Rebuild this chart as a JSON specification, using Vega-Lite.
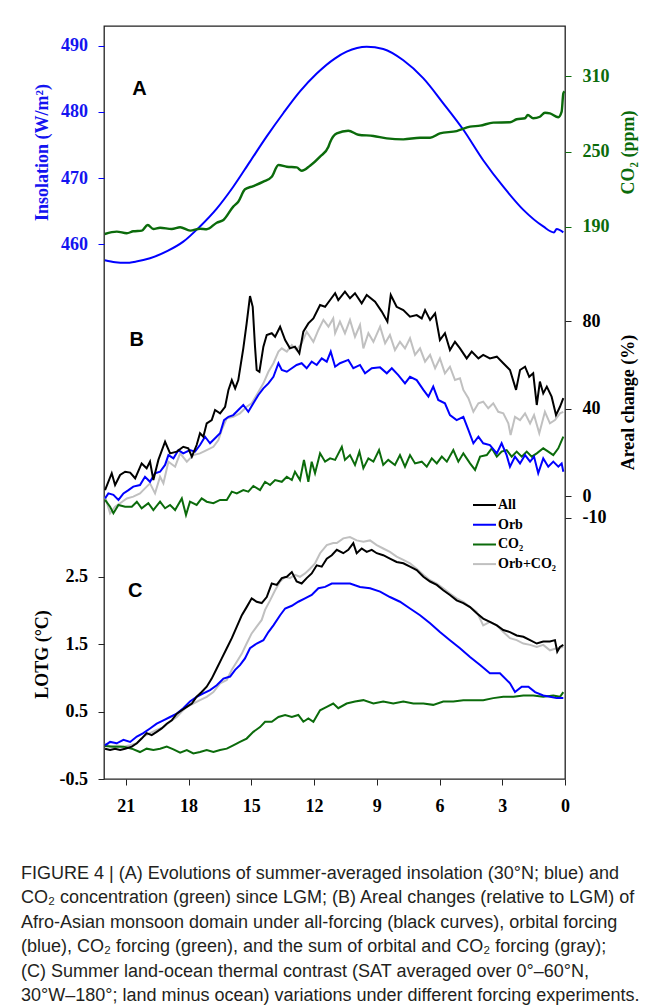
{
"$schema": "https://vega.github.io/schema/vega-lite/v6.json",
"width": 461, "height": 753,
"autosize": "none",
"padding": {"left": 104, "top": 26, "right": 92, "bottom": 228},
"background": "white",
"config": {"view": {"stroke": "#222", "strokeWidth": 1.3}},
"title": {
 "text": ["FIGURE 4 | (A) Evolutions of summer-averaged insolation (30°N; blue) and", "CO₂ concentration (green) since LGM; (B) Areal changes (relative to LGM) of", "Afro-Asian monsoon domain under all-forcing (black curves), orbital forcing", "(blue), CO₂ forcing (green), and the sum of orbital and CO₂ forcing (gray);", "(C) Summer land-ocean thermal contrast (SAT averaged over 0°–60°N,", "30°W–180°; land minus ocean) variations under different forcing experiments."],
 "orient": "bottom", "anchor": "start", "frame": "group", "dx": -83, "offset": 50,
 "font": "Liberation Sans", "fontSize": 18, "fontWeight": "normal", "color": "#231f20", "lineHeight": 24.4
},
"datasets": {
 "ins": [{"t":22.0,"v":457.6},{"t":21.5,"v":457.3},{"t":21.03,"v":457.2},{"t":20.5,"v":457.4},{"t":19.84,"v":457.9},{"t":19.0,"v":459.0},{"t":18.25,"v":460.4},{"t":17.45,"v":462.7},{"t":16.65,"v":465.4},{"t":15.86,"v":468.7},{"t":15.06,"v":472.5},{"t":14.26,"v":476.3},{"t":13.47,"v":479.8},{"t":12.67,"v":483.1},{"t":11.87,"v":485.8},{"t":10.99,"v":488.1},{"t":10.44,"v":489.1},{"t":9.48,"v":489.85},{"t":8.69,"v":489.5},{"t":7.73,"v":487.8},{"t":6.78,"v":485.1},{"t":5.82,"v":481.3},{"t":4.86,"v":477.3},{"t":3.91,"v":472.7},{"t":2.95,"v":468.7},{"t":1.99,"v":465.2},{"t":1.04,"v":462.7},{"t":0.53,"v":461.8},{"t":0.40,"v":462.3},{"t":0.08,"v":461.8}],
 "co2": [{"t":22.0,"v":184.4},{"t":21.43,"v":186.3},{"t":20.95,"v":185.0},{"t":20.64,"v":186.6},{"t":20.23,"v":187.1},{"t":19.95,"v":191.6},{"t":19.68,"v":188.4},{"t":19.36,"v":189.4},{"t":18.8,"v":188.4},{"t":18.4,"v":189.8},{"t":17.92,"v":187.1},{"t":17.45,"v":188.6},{"t":17.13,"v":188.2},{"t":16.65,"v":193.4},{"t":16.33,"v":195.6},{"t":15.86,"v":206.2},{"t":15.62,"v":210.1},{"t":15.3,"v":220.0},{"t":14.9,"v":222.6},{"t":14.42,"v":226.1},{"t":14.02,"v":230.0},{"t":13.7,"v":239.4},{"t":13.3,"v":238.0},{"t":12.83,"v":237.5},{"t":12.59,"v":234.8},{"t":12.19,"v":238.8},{"t":11.71,"v":246.0},{"t":11.31,"v":253.9},{"t":11.23,"v":257.5},{"t":10.91,"v":264.6},{"t":10.36,"v":266.7},{"t":9.88,"v":263.5},{"t":9.16,"v":262.5},{"t":8.52,"v":260.6},{"t":7.73,"v":259.8},{"t":6.93,"v":261.1},{"t":6.45,"v":261.1},{"t":5.98,"v":264.6},{"t":5.18,"v":266.4},{"t":4.54,"v":269.9},{"t":4.06,"v":270.7},{"t":3.43,"v":273.1},{"t":2.63,"v":273.4},{"t":2.31,"v":275.8},{"t":1.91,"v":276.6},{"t":1.78,"v":279.2},{"t":1.52,"v":276.6},{"t":1.2,"v":277.8},{"t":0.96,"v":281.0},{"t":0.72,"v":280.5},{"t":0.32,"v":277.4},{"t":0.16,"v":281.8},{"t":0.08,"v":296.5},{"t":0.02,"v":298.0}],
 "areal": [
{"k":"Orb+CO₂","t":21.99,"v":-0.3},{"k":"Orb+CO₂","t":21.75,"v":-7.9},{"k":"Orb+CO₂","t":21.51,"v":-4.9},{"k":"Orb+CO₂","t":21.27,"v":-3.3},{"k":"Orb+CO₂","t":20.95,"v":-1.1},{"k":"Orb+CO₂","t":20.64,"v":-0.3},{"k":"Orb+CO₂","t":20.32,"v":1.2},{"k":"Orb+CO₂","t":20.08,"v":3.5},{"k":"Orb+CO₂","t":19.84,"v":5.8},{"k":"Orb+CO₂","t":19.6,"v":1.2},{"k":"Orb+CO₂","t":19.36,"v":8.8},{"k":"Orb+CO₂","t":19.2,"v":5.8},{"k":"Orb+CO₂","t":18.96,"v":15.7},{"k":"Orb+CO₂","t":18.64,"v":13.4},{"k":"Orb+CO₂","t":18.4,"v":19.5},{"k":"Orb+CO₂","t":18.08,"v":15.7},{"k":"Orb+CO₂","t":17.77,"v":18.7},{"k":"Orb+CO₂","t":17.45,"v":19.5},{"k":"Orb+CO₂","t":17.13,"v":21.0},{"k":"Orb+CO₂","t":16.81,"v":22.5},{"k":"Orb+CO₂","t":16.57,"v":25.6},{"k":"Orb+CO₂","t":16.41,"v":30.2},{"k":"Orb+CO₂","t":16.17,"v":35.5},{"k":"Orb+CO₂","t":15.86,"v":36.2},{"k":"Orb+CO₂","t":15.54,"v":37.8},{"k":"Orb+CO₂","t":15.22,"v":40.8},{"k":"Orb+CO₂","t":14.98,"v":42.4},{"k":"Orb+CO₂","t":14.74,"v":46.2},{"k":"Orb+CO₂","t":14.42,"v":51.5},{"k":"Orb+CO₂","t":14.18,"v":56.8},{"k":"Orb+CO₂","t":13.94,"v":60.7},{"k":"Orb+CO₂","t":13.7,"v":66.0},{"k":"Orb+CO₂","t":13.54,"v":67.5},{"k":"Orb+CO₂","t":13.3,"v":66.0},{"k":"Orb+CO₂","t":13.06,"v":69.0},{"k":"Orb+CO₂","t":12.83,"v":66.7},{"k":"Orb+CO₂","t":12.59,"v":69.8},{"k":"Orb+CO₂","t":12.35,"v":75.1},{"k":"Orb+CO₂","t":12.03,"v":70.5},{"k":"Orb+CO₂","t":11.79,"v":75.9},{"k":"Orb+CO₂","t":11.55,"v":80.5},{"k":"Orb+CO₂","t":11.31,"v":77.4},{"k":"Orb+CO₂","t":11.08,"v":81.2},{"k":"Orb+CO₂","t":10.99,"v":74.4},{"k":"Orb+CO₂","t":10.76,"v":79.7},{"k":"Orb+CO₂","t":10.52,"v":74.4},{"k":"Orb+CO₂","t":10.28,"v":80.5},{"k":"Orb+CO₂","t":10.04,"v":72.8},{"k":"Orb+CO₂","t":9.8,"v":78.2},{"k":"Orb+CO₂","t":9.64,"v":67.5},{"k":"Orb+CO₂","t":9.4,"v":74.4},{"k":"Orb+CO₂","t":9.16,"v":70.5},{"k":"Orb+CO₂","t":8.84,"v":77.4},{"k":"Orb+CO₂","t":8.6,"v":69.8},{"k":"Orb+CO₂","t":8.37,"v":73.6},{"k":"Orb+CO₂","t":8.13,"v":66.7},{"k":"Orb+CO₂","t":7.89,"v":70.5},{"k":"Orb+CO₂","t":7.65,"v":67.5},{"k":"Orb+CO₂","t":7.41,"v":72.1},{"k":"Orb+CO₂","t":7.17,"v":64.5},{"k":"Orb+CO₂","t":6.93,"v":67.5},{"k":"Orb+CO₂","t":6.69,"v":61.4},{"k":"Orb+CO₂","t":6.45,"v":64.5},{"k":"Orb+CO₂","t":6.21,"v":58.4},{"k":"Orb+CO₂","t":5.98,"v":62.9},{"k":"Orb+CO₂","t":5.74,"v":56.1},{"k":"Orb+CO₂","t":5.5,"v":59.1},{"k":"Orb+CO₂","t":5.26,"v":53.0},{"k":"Orb+CO₂","t":5.02,"v":53.8},{"k":"Orb+CO₂","t":4.86,"v":48.5},{"k":"Orb+CO₂","t":4.62,"v":44.7},{"k":"Orb+CO₂","t":4.38,"v":38.5},{"k":"Orb+CO₂","t":4.14,"v":42.4},{"k":"Orb+CO₂","t":3.91,"v":43.1},{"k":"Orb+CO₂","t":3.67,"v":40.1},{"k":"Orb+CO₂","t":3.43,"v":42.4},{"k":"Orb+CO₂","t":3.19,"v":38.5},{"k":"Orb+CO₂","t":2.95,"v":37.8},{"k":"Orb+CO₂","t":2.71,"v":33.2},{"k":"Orb+CO₂","t":2.6,"v":27.9},{"k":"Orb+CO₂","t":2.39,"v":36.2},{"k":"Orb+CO₂","t":2.15,"v":34.7},{"k":"Orb+CO₂","t":1.91,"v":37.8},{"k":"Orb+CO₂","t":1.67,"v":33.2},{"k":"Orb+CO₂","t":1.48,"v":37.0},{"k":"Orb+CO₂","t":1.23,"v":28.7},{"k":"Orb+CO₂","t":0.96,"v":38.5},{"k":"Orb+CO₂","t":0.72,"v":33.2},{"k":"Orb+CO₂","t":0.48,"v":34.7},{"k":"Orb+CO₂","t":0.24,"v":37.8},{"k":"Orb+CO₂","t":0.08,"v":38.5},
{"k":"CO₂","t":21.99,"v":-1.8},{"k":"CO₂","t":21.75,"v":-4.9},{"k":"CO₂","t":21.59,"v":-7.9},{"k":"CO₂","t":21.35,"v":-4.1},{"k":"CO₂","t":21.03,"v":-4.9},{"k":"CO₂","t":20.71,"v":-4.9},{"k":"CO₂","t":20.47,"v":-2.6},{"k":"CO₂","t":20.24,"v":-5.6},{"k":"CO₂","t":19.92,"v":-3.3},{"k":"CO₂","t":19.68,"v":-6.4},{"k":"CO₂","t":19.36,"v":-2.6},{"k":"CO₂","t":19.12,"v":-5.6},{"k":"CO₂","t":18.88,"v":-4.1},{"k":"CO₂","t":18.64,"v":-6.4},{"k":"CO₂","t":18.32,"v":-1.1},{"k":"CO₂","t":18.12,"v":-8.7},{"k":"CO₂","t":17.93,"v":-2.6},{"k":"CO₂","t":17.61,"v":-4.1},{"k":"CO₂","t":17.37,"v":-1.1},{"k":"CO₂","t":17.13,"v":-2.6},{"k":"CO₂","t":16.81,"v":-3.3},{"k":"CO₂","t":16.49,"v":-1.8},{"k":"CO₂","t":16.17,"v":-1.8},{"k":"CO₂","t":15.93,"v":2.0},{"k":"CO₂","t":15.69,"v":1.2},{"k":"CO₂","t":15.38,"v":2.7},{"k":"CO₂","t":15.14,"v":2.0},{"k":"CO₂","t":14.9,"v":4.6},{"k":"CO₂","t":14.58,"v":2.7},{"k":"CO₂","t":14.34,"v":6.5},{"k":"CO₂","t":14.1,"v":5.0},{"k":"CO₂","t":13.86,"v":7.3},{"k":"CO₂","t":13.54,"v":6.5},{"k":"CO₂","t":13.3,"v":8.8},{"k":"CO₂","t":13.06,"v":7.3},{"k":"CO₂","t":12.91,"v":11.1},{"k":"CO₂","t":12.67,"v":7.3},{"k":"CO₂","t":12.48,"v":16.5},{"k":"CO₂","t":12.27,"v":6.5},{"k":"CO₂","t":12.11,"v":15.7},{"k":"CO₂","t":11.95,"v":10.4},{"k":"CO₂","t":11.71,"v":19.5},{"k":"CO₂","t":11.47,"v":15.7},{"k":"CO₂","t":11.23,"v":17.2},{"k":"CO₂","t":10.99,"v":16.5},{"k":"CO₂","t":10.67,"v":22.5},{"k":"CO₂","t":10.52,"v":16.5},{"k":"CO₂","t":10.28,"v":18.7},{"k":"CO₂","t":10.04,"v":14.2},{"k":"CO₂","t":9.83,"v":20.3},{"k":"CO₂","t":9.64,"v":12.7},{"k":"CO₂","t":9.4,"v":17.2},{"k":"CO₂","t":9.16,"v":15.7},{"k":"CO₂","t":8.89,"v":21.0},{"k":"CO₂","t":8.69,"v":14.2},{"k":"CO₂","t":8.45,"v":16.5},{"k":"CO₂","t":8.13,"v":14.2},{"k":"CO₂","t":7.89,"v":18.7},{"k":"CO₂","t":7.65,"v":13.4},{"k":"CO₂","t":7.41,"v":18.7},{"k":"CO₂","t":7.17,"v":14.9},{"k":"CO₂","t":6.85,"v":15.7},{"k":"CO₂","t":6.61,"v":13.4},{"k":"CO₂","t":6.37,"v":17.2},{"k":"CO₂","t":6.13,"v":14.9},{"k":"CO₂","t":5.89,"v":18.0},{"k":"CO₂","t":5.65,"v":15.7},{"k":"CO₂","t":5.34,"v":21.0},{"k":"CO₂","t":5.1,"v":15.7},{"k":"CO₂","t":4.86,"v":19.5},{"k":"CO₂","t":4.54,"v":14.9},{"k":"CO₂","t":4.3,"v":11.9},{"k":"CO₂","t":4.06,"v":18.0},{"k":"CO₂","t":3.74,"v":18.7},{"k":"CO₂","t":3.5,"v":21.8},{"k":"CO₂","t":3.26,"v":18.0},{"k":"CO₂","t":3.03,"v":20.3},{"k":"CO₂","t":2.79,"v":21.0},{"k":"CO₂","t":2.55,"v":18.0},{"k":"CO₂","t":2.31,"v":20.3},{"k":"CO₂","t":2.07,"v":18.0},{"k":"CO₂","t":1.83,"v":20.3},{"k":"CO₂","t":1.59,"v":18.0},{"k":"CO₂","t":1.35,"v":19.5},{"k":"CO₂","t":1.04,"v":21.8},{"k":"CO₂","t":0.8,"v":20.3},{"k":"CO₂","t":0.56,"v":18.7},{"k":"CO₂","t":0.32,"v":21.8},{"k":"CO₂","t":0.08,"v":27.1},
{"k":"Orb","t":21.99,"v":-1.1},{"k":"Orb","t":21.83,"v":1.2},{"k":"Orb","t":21.59,"v":0.5},{"k":"Orb","t":21.35,"v":-1.8},{"k":"Orb","t":21.11,"v":1.2},{"k":"Orb","t":20.87,"v":2.7},{"k":"Orb","t":20.64,"v":4.3},{"k":"Orb","t":20.32,"v":5.0},{"k":"Orb","t":20.08,"v":8.8},{"k":"Orb","t":19.84,"v":6.5},{"k":"Orb","t":19.6,"v":10.4},{"k":"Orb","t":19.36,"v":11.1},{"k":"Orb","t":19.12,"v":14.2},{"k":"Orb","t":18.96,"v":18.7},{"k":"Orb","t":18.72,"v":17.2},{"k":"Orb","t":18.48,"v":21.0},{"k":"Orb","t":18.25,"v":19.5},{"k":"Orb","t":17.93,"v":21.0},{"k":"Orb","t":17.69,"v":20.3},{"k":"Orb","t":17.45,"v":23.3},{"k":"Orb","t":17.21,"v":27.1},{"k":"Orb","t":16.97,"v":24.1},{"k":"Orb","t":16.73,"v":26.4},{"k":"Orb","t":16.49,"v":28.7},{"k":"Orb","t":16.3,"v":34.7},{"k":"Orb","t":16.09,"v":36.2},{"k":"Orb","t":15.86,"v":37.0},{"k":"Orb","t":15.62,"v":39.3},{"k":"Orb","t":15.38,"v":41.6},{"k":"Orb","t":15.14,"v":38.5},{"k":"Orb","t":14.9,"v":42.4},{"k":"Orb","t":14.66,"v":46.2},{"k":"Orb","t":14.42,"v":49.2},{"k":"Orb","t":14.18,"v":51.5},{"k":"Orb","t":13.94,"v":54.5},{"k":"Orb","t":13.7,"v":60.7},{"k":"Orb","t":13.54,"v":57.6},{"k":"Orb","t":13.3,"v":56.8},{"k":"Orb","t":13.06,"v":58.4},{"k":"Orb","t":12.83,"v":59.9},{"k":"Orb","t":12.59,"v":60.7},{"k":"Orb","t":12.35,"v":58.4},{"k":"Orb","t":12.11,"v":61.4},{"k":"Orb","t":11.87,"v":59.9},{"k":"Orb","t":11.63,"v":62.9},{"k":"Orb","t":11.39,"v":61.4},{"k":"Orb","t":11.2,"v":66.0},{"k":"Orb","t":10.99,"v":59.1},{"k":"Orb","t":10.76,"v":60.7},{"k":"Orb","t":10.36,"v":62.2},{"k":"Orb","t":10.12,"v":58.4},{"k":"Orb","t":9.8,"v":59.9},{"k":"Orb","t":9.56,"v":56.1},{"k":"Orb","t":9.24,"v":58.4},{"k":"Orb","t":8.84,"v":58.8},{"k":"Orb","t":8.52,"v":56.1},{"k":"Orb","t":8.28,"v":58.4},{"k":"Orb","t":7.97,"v":55.3},{"k":"Orb","t":7.65,"v":51.5},{"k":"Orb","t":7.41,"v":54.5},{"k":"Orb","t":7.09,"v":53.0},{"k":"Orb","t":6.77,"v":48.5},{"k":"Orb","t":6.53,"v":45.4},{"k":"Orb","t":6.3,"v":50.0},{"k":"Orb","t":6.06,"v":43.9},{"k":"Orb","t":5.74,"v":42.4},{"k":"Orb","t":5.5,"v":37.0},{"k":"Orb","t":5.18,"v":34.7},{"k":"Orb","t":4.86,"v":36.2},{"k":"Orb","t":4.62,"v":30.2},{"k":"Orb","t":4.38,"v":24.1},{"k":"Orb","t":4.14,"v":27.1},{"k":"Orb","t":3.91,"v":24.1},{"k":"Orb","t":3.59,"v":23.3},{"k":"Orb","t":3.26,"v":19.5},{"k":"Orb","t":3.03,"v":24.1},{"k":"Orb","t":2.79,"v":18.7},{"k":"Orb","t":2.63,"v":13.4},{"k":"Orb","t":2.39,"v":18.0},{"k":"Orb","t":2.15,"v":14.9},{"k":"Orb","t":1.91,"v":18.7},{"k":"Orb","t":1.67,"v":15.7},{"k":"Orb","t":1.48,"v":18.0},{"k":"Orb","t":1.28,"v":10.4},{"k":"Orb","t":1.04,"v":17.2},{"k":"Orb","t":0.8,"v":13.4},{"k":"Orb","t":0.56,"v":15.7},{"k":"Orb","t":0.32,"v":13.4},{"k":"Orb","t":0.16,"v":14.9},{"k":"Orb","t":0.08,"v":11.1},
{"k":"All","t":21.99,"v":2.7},{"k":"All","t":21.67,"v":10.4},{"k":"All","t":21.51,"v":5.0},{"k":"All","t":21.27,"v":9.6},{"k":"All","t":21.03,"v":11.1},{"k":"All","t":20.79,"v":10.7},{"k":"All","t":20.55,"v":8.1},{"k":"All","t":20.24,"v":14.9},{"k":"All","t":20.0,"v":12.7},{"k":"All","t":19.84,"v":15.7},{"k":"All","t":19.68,"v":7.3},{"k":"All","t":19.44,"v":16.5},{"k":"All","t":19.12,"v":24.8},{"k":"All","t":18.88,"v":19.5},{"k":"All","t":18.56,"v":20.3},{"k":"All","t":18.25,"v":22.5},{"k":"All","t":18.01,"v":21.8},{"k":"All","t":17.84,"v":18.0},{"k":"All","t":17.61,"v":23.3},{"k":"All","t":17.45,"v":28.7},{"k":"All","t":17.29,"v":27.1},{"k":"All","t":17.13,"v":33.2},{"k":"All","t":16.89,"v":34.7},{"k":"All","t":16.73,"v":39.3},{"k":"All","t":16.49,"v":37.8},{"k":"All","t":16.25,"v":40.8},{"k":"All","t":16.09,"v":48.5},{"k":"All","t":15.93,"v":53.0},{"k":"All","t":15.77,"v":49.2},{"k":"All","t":15.62,"v":53.0},{"k":"All","t":15.38,"v":67.5},{"k":"All","t":15.22,"v":78.9},{"k":"All","t":15.06,"v":91.4},{"k":"All","t":14.93,"v":86.5},{"k":"All","t":14.82,"v":68.3},{"k":"All","t":14.74,"v":57.6},{"k":"All","t":14.61,"v":56.8},{"k":"All","t":14.42,"v":68.3},{"k":"All","t":14.26,"v":73.6},{"k":"All","t":14.02,"v":74.4},{"k":"All","t":13.86,"v":72.8},{"k":"All","t":13.62,"v":77.4},{"k":"All","t":13.38,"v":71.3},{"k":"All","t":13.15,"v":67.5},{"k":"All","t":12.91,"v":68.3},{"k":"All","t":12.7,"v":65.2},{"k":"All","t":12.51,"v":75.1},{"k":"All","t":12.27,"v":78.9},{"k":"All","t":12.03,"v":81.2},{"k":"All","t":11.71,"v":87.3},{"k":"All","t":11.47,"v":86.5},{"k":"All","t":11.23,"v":89.6},{"k":"All","t":10.99,"v":92.7},{"k":"All","t":10.84,"v":89.6},{"k":"All","t":10.52,"v":93.4},{"k":"All","t":10.28,"v":90.4},{"k":"All","t":10.04,"v":92.7},{"k":"All","t":9.72,"v":88.1},{"k":"All","t":9.48,"v":91.9},{"k":"All","t":9.08,"v":88.8},{"k":"All","t":8.76,"v":84.3},{"k":"All","t":8.49,"v":79.7},{"k":"All","t":8.33,"v":91.9},{"k":"All","t":8.05,"v":86.5},{"k":"All","t":7.73,"v":85.0},{"k":"All","t":7.41,"v":82.0},{"k":"All","t":7.09,"v":82.7},{"k":"All","t":6.85,"v":81.2},{"k":"All","t":6.69,"v":85.0},{"k":"All","t":6.45,"v":80.5},{"k":"All","t":6.21,"v":83.5},{"k":"All","t":5.98,"v":71.3},{"k":"All","t":5.74,"v":74.4},{"k":"All","t":5.5,"v":66.7},{"k":"All","t":5.26,"v":70.5},{"k":"All","t":5.02,"v":67.5},{"k":"All","t":4.7,"v":62.9},{"k":"All","t":4.46,"v":66.0},{"k":"All","t":4.14,"v":62.9},{"k":"All","t":3.91,"v":64.5},{"k":"All","t":3.59,"v":62.9},{"k":"All","t":3.26,"v":63.7},{"k":"All","t":2.95,"v":60.7},{"k":"All","t":2.63,"v":57.6},{"k":"All","t":2.34,"v":48.5},{"k":"All","t":2.15,"v":57.6},{"k":"All","t":1.91,"v":59.1},{"k":"All","t":1.71,"v":54.5},{"k":"All","t":1.52,"v":56.1},{"k":"All","t":1.35,"v":41.6},{"k":"All","t":1.2,"v":52.3},{"k":"All","t":1.04,"v":46.9},{"k":"All","t":0.87,"v":50.0},{"k":"All","t":0.64,"v":45.4},{"k":"All","t":0.43,"v":37.0},{"k":"All","t":0.24,"v":40.8},{"k":"All","t":0.08,"v":44.7}
 ],
 "lotg": [
{"k":"Orb+CO₂","t":21.99,"v":0.03},{"k":"Orb+CO₂","t":21.75,"v":-0.02},{"k":"Orb+CO₂","t":21.43,"v":0.0},{"k":"Orb+CO₂","t":21.11,"v":-0.02},{"k":"Orb+CO₂","t":20.79,"v":0.0},{"k":"Orb+CO₂","t":20.47,"v":0.03},{"k":"Orb+CO₂","t":20.16,"v":0.13},{"k":"Orb+CO₂","t":19.84,"v":0.18},{"k":"Orb+CO₂","t":19.52,"v":0.23},{"k":"Orb+CO₂","t":19.2,"v":0.27},{"k":"Orb+CO₂","t":18.88,"v":0.35},{"k":"Orb+CO₂","t":18.56,"v":0.42},{"k":"Orb+CO₂","t":18.32,"v":0.5},{"k":"Orb+CO₂","t":18.08,"v":0.57},{"k":"Orb+CO₂","t":17.77,"v":0.62},{"k":"Orb+CO₂","t":17.45,"v":0.67},{"k":"Orb+CO₂","t":17.13,"v":0.72},{"k":"Orb+CO₂","t":16.81,"v":0.79},{"k":"Orb+CO₂","t":16.49,"v":0.92},{"k":"Orb+CO₂","t":16.17,"v":0.97},{"k":"Orb+CO₂","t":15.93,"v":1.12},{"k":"Orb+CO₂","t":15.69,"v":1.24},{"k":"Orb+CO₂","t":15.45,"v":1.36},{"k":"Orb+CO₂","t":15.22,"v":1.51},{"k":"Orb+CO₂","t":14.98,"v":1.66},{"k":"Orb+CO₂","t":14.74,"v":1.76},{"k":"Orb+CO₂","t":14.5,"v":1.86},{"k":"Orb+CO₂","t":14.34,"v":2.01},{"k":"Orb+CO₂","t":14.1,"v":2.15},{"k":"Orb+CO₂","t":13.86,"v":2.3},{"k":"Orb+CO₂","t":13.62,"v":2.43},{"k":"Orb+CO₂","t":13.38,"v":2.5},{"k":"Orb+CO₂","t":13.15,"v":2.48},{"k":"Orb+CO₂","t":12.91,"v":2.53},{"k":"Orb+CO₂","t":12.67,"v":2.5},{"k":"Orb+CO₂","t":12.43,"v":2.55},{"k":"Orb+CO₂","t":12.19,"v":2.62},{"k":"Orb+CO₂","t":11.95,"v":2.7},{"k":"Orb+CO₂","t":11.71,"v":2.85},{"k":"Orb+CO₂","t":11.39,"v":2.97},{"k":"Orb+CO₂","t":11.08,"v":3.0},{"k":"Orb+CO₂","t":10.91,"v":3.0},{"k":"Orb+CO₂","t":10.6,"v":3.07},{"k":"Orb+CO₂","t":10.28,"v":3.09},{"k":"Orb+CO₂","t":9.96,"v":3.04},{"k":"Orb+CO₂","t":9.64,"v":3.02},{"k":"Orb+CO₂","t":9.32,"v":3.04},{"k":"Orb+CO₂","t":9.0,"v":2.97},{"k":"Orb+CO₂","t":8.69,"v":2.92},{"k":"Orb+CO₂","t":8.37,"v":2.87},{"k":"Orb+CO₂","t":8.05,"v":2.8},{"k":"Orb+CO₂","t":7.73,"v":2.75},{"k":"Orb+CO₂","t":7.41,"v":2.7},{"k":"Orb+CO₂","t":7.09,"v":2.62},{"k":"Orb+CO₂","t":6.77,"v":2.53},{"k":"Orb+CO₂","t":6.45,"v":2.45},{"k":"Orb+CO₂","t":6.13,"v":2.4},{"k":"Orb+CO₂","t":5.82,"v":2.33},{"k":"Orb+CO₂","t":5.5,"v":2.25},{"k":"Orb+CO₂","t":5.18,"v":2.18},{"k":"Orb+CO₂","t":4.86,"v":2.13},{"k":"Orb+CO₂","t":4.54,"v":2.05},{"k":"Orb+CO₂","t":4.22,"v":1.98},{"k":"Orb+CO₂","t":3.91,"v":1.78},{"k":"Orb+CO₂","t":3.59,"v":1.83},{"k":"Orb+CO₂","t":3.26,"v":1.78},{"k":"Orb+CO₂","t":2.95,"v":1.68},{"k":"Orb+CO₂","t":2.63,"v":1.59},{"k":"Orb+CO₂","t":2.31,"v":1.56},{"k":"Orb+CO₂","t":1.99,"v":1.51},{"k":"Orb+CO₂","t":1.67,"v":1.49},{"k":"Orb+CO₂","t":1.35,"v":1.46},{"k":"Orb+CO₂","t":1.04,"v":1.49},{"k":"Orb+CO₂","t":0.72,"v":1.41},{"k":"Orb+CO₂","t":0.4,"v":1.44},{"k":"Orb+CO₂","t":0.08,"v":1.46},
{"k":"CO₂","t":21.99,"v":-0.01},{"k":"CO₂","t":21.59,"v":-0.02},{"k":"CO₂","t":21.11,"v":-0.02},{"k":"CO₂","t":20.71,"v":-0.05},{"k":"CO₂","t":20.32,"v":-0.1},{"k":"CO₂","t":20.0,"v":-0.05},{"k":"CO₂","t":19.68,"v":-0.07},{"k":"CO₂","t":19.36,"v":-0.05},{"k":"CO₂","t":19.04,"v":-0.02},{"k":"CO₂","t":18.72,"v":-0.06},{"k":"CO₂","t":18.4,"v":-0.11},{"k":"CO₂","t":18.08,"v":-0.07},{"k":"CO₂","t":17.77,"v":-0.12},{"k":"CO₂","t":17.45,"v":-0.1},{"k":"CO₂","t":17.13,"v":-0.07},{"k":"CO₂","t":16.81,"v":-0.1},{"k":"CO₂","t":16.49,"v":-0.07},{"k":"CO₂","t":16.17,"v":-0.05},{"k":"CO₂","t":15.86,"v":0.0},{"k":"CO₂","t":15.54,"v":0.05},{"k":"CO₂","t":15.22,"v":0.1},{"k":"CO₂","t":14.9,"v":0.2},{"k":"CO₂","t":14.58,"v":0.27},{"k":"CO₂","t":14.34,"v":0.35},{"k":"CO₂","t":14.02,"v":0.35},{"k":"CO₂","t":13.7,"v":0.42},{"k":"CO₂","t":13.38,"v":0.45},{"k":"CO₂","t":13.06,"v":0.42},{"k":"CO₂","t":12.75,"v":0.45},{"k":"CO₂","t":12.51,"v":0.35},{"k":"CO₂","t":12.27,"v":0.4},{"k":"CO₂","t":12.03,"v":0.35},{"k":"CO₂","t":11.71,"v":0.52},{"k":"CO₂","t":11.39,"v":0.57},{"k":"CO₂","t":11.08,"v":0.62},{"k":"CO₂","t":10.84,"v":0.55},{"k":"CO₂","t":10.44,"v":0.62},{"k":"CO₂","t":10.04,"v":0.65},{"k":"CO₂","t":9.64,"v":0.67},{"k":"CO₂","t":9.16,"v":0.62},{"k":"CO₂","t":8.69,"v":0.65},{"k":"CO₂","t":8.21,"v":0.62},{"k":"CO₂","t":7.73,"v":0.65},{"k":"CO₂","t":7.25,"v":0.62},{"k":"CO₂","t":6.77,"v":0.62},{"k":"CO₂","t":6.3,"v":0.6},{"k":"CO₂","t":5.82,"v":0.65},{"k":"CO₂","t":5.34,"v":0.65},{"k":"CO₂","t":4.86,"v":0.67},{"k":"CO₂","t":4.38,"v":0.67},{"k":"CO₂","t":3.91,"v":0.67},{"k":"CO₂","t":3.43,"v":0.7},{"k":"CO₂","t":2.95,"v":0.72},{"k":"CO₂","t":2.47,"v":0.72},{"k":"CO₂","t":1.99,"v":0.74},{"k":"CO₂","t":1.52,"v":0.74},{"k":"CO₂","t":1.04,"v":0.72},{"k":"CO₂","t":0.56,"v":0.74},{"k":"CO₂","t":0.24,"v":0.72},{"k":"CO₂","t":0.08,"v":0.79},
{"k":"Orb","t":21.99,"v":0.0},{"k":"Orb","t":21.75,"v":0.05},{"k":"Orb","t":21.43,"v":0.03},{"k":"Orb","t":21.11,"v":0.08},{"k":"Orb","t":20.79,"v":0.05},{"k":"Orb","t":20.47,"v":0.13},{"k":"Orb","t":20.16,"v":0.18},{"k":"Orb","t":19.84,"v":0.25},{"k":"Orb","t":19.52,"v":0.32},{"k":"Orb","t":19.2,"v":0.37},{"k":"Orb","t":18.88,"v":0.42},{"k":"Orb","t":18.56,"v":0.47},{"k":"Orb","t":18.25,"v":0.55},{"k":"Orb","t":17.93,"v":0.65},{"k":"Orb","t":17.61,"v":0.72},{"k":"Orb","t":17.29,"v":0.77},{"k":"Orb","t":16.97,"v":0.82},{"k":"Orb","t":16.65,"v":0.89},{"k":"Orb","t":16.33,"v":0.99},{"k":"Orb","t":16.01,"v":1.02},{"k":"Orb","t":15.77,"v":1.12},{"k":"Orb","t":15.54,"v":1.19},{"k":"Orb","t":15.3,"v":1.29},{"k":"Orb","t":15.06,"v":1.44},{"k":"Orb","t":14.74,"v":1.51},{"k":"Orb","t":14.42,"v":1.56},{"k":"Orb","t":14.18,"v":1.68},{"k":"Orb","t":13.94,"v":1.78},{"k":"Orb","t":13.62,"v":1.93},{"k":"Orb","t":13.38,"v":2.03},{"k":"Orb","t":13.06,"v":2.07},{"k":"Orb","t":12.75,"v":2.13},{"k":"Orb","t":12.43,"v":2.18},{"k":"Orb","t":12.11,"v":2.23},{"k":"Orb","t":11.79,"v":2.33},{"k":"Orb","t":11.47,"v":2.35},{"k":"Orb","t":11.15,"v":2.4},{"k":"Orb","t":10.76,"v":2.4},{"k":"Orb","t":10.28,"v":2.4},{"k":"Orb","t":9.8,"v":2.35},{"k":"Orb","t":9.32,"v":2.33},{"k":"Orb","t":8.84,"v":2.28},{"k":"Orb","t":8.37,"v":2.2},{"k":"Orb","t":7.89,"v":2.13},{"k":"Orb","t":7.41,"v":2.03},{"k":"Orb","t":6.93,"v":1.93},{"k":"Orb","t":6.45,"v":1.81},{"k":"Orb","t":5.98,"v":1.68},{"k":"Orb","t":5.5,"v":1.56},{"k":"Orb","t":5.02,"v":1.44},{"k":"Orb","t":4.54,"v":1.31},{"k":"Orb","t":4.06,"v":1.19},{"k":"Orb","t":3.59,"v":1.07},{"k":"Orb","t":3.11,"v":1.07},{"k":"Orb","t":2.63,"v":0.92},{"k":"Orb","t":2.39,"v":0.79},{"k":"Orb","t":2.07,"v":0.87},{"k":"Orb","t":1.75,"v":0.87},{"k":"Orb","t":1.43,"v":0.79},{"k":"Orb","t":1.04,"v":0.74},{"k":"Orb","t":0.72,"v":0.72},{"k":"Orb","t":0.4,"v":0.7},{"k":"Orb","t":0.08,"v":0.7},
{"k":"All","t":21.99,"v":-0.05},{"k":"All","t":21.75,"v":-0.07},{"k":"All","t":21.51,"v":-0.05},{"k":"All","t":21.27,"v":-0.07},{"k":"All","t":21.03,"v":-0.05},{"k":"All","t":20.71,"v":-0.02},{"k":"All","t":20.47,"v":0.03},{"k":"All","t":20.24,"v":0.1},{"k":"All","t":20.0,"v":0.18},{"k":"All","t":19.76,"v":0.15},{"k":"All","t":19.52,"v":0.2},{"k":"All","t":19.28,"v":0.25},{"k":"All","t":19.04,"v":0.32},{"k":"All","t":18.8,"v":0.37},{"k":"All","t":18.56,"v":0.47},{"k":"All","t":18.32,"v":0.52},{"k":"All","t":18.08,"v":0.57},{"k":"All","t":17.84,"v":0.62},{"k":"All","t":17.61,"v":0.72},{"k":"All","t":17.37,"v":0.79},{"k":"All","t":17.13,"v":0.87},{"k":"All","t":16.89,"v":0.99},{"k":"All","t":16.65,"v":1.14},{"k":"All","t":16.41,"v":1.29},{"k":"All","t":16.17,"v":1.44},{"k":"All","t":15.93,"v":1.59},{"k":"All","t":15.69,"v":1.76},{"k":"All","t":15.45,"v":1.93},{"k":"All","t":15.22,"v":2.05},{"k":"All","t":14.98,"v":2.18},{"k":"All","t":14.74,"v":2.13},{"k":"All","t":14.5,"v":2.11},{"k":"All","t":14.26,"v":2.2},{"k":"All","t":14.02,"v":2.4},{"k":"All","t":13.78,"v":2.38},{"k":"All","t":13.54,"v":2.48},{"k":"All","t":13.3,"v":2.5},{"k":"All","t":13.06,"v":2.57},{"k":"All","t":12.83,"v":2.43},{"k":"All","t":12.59,"v":2.4},{"k":"All","t":12.35,"v":2.48},{"k":"All","t":12.11,"v":2.55},{"k":"All","t":11.87,"v":2.67},{"k":"All","t":11.63,"v":2.65},{"k":"All","t":11.39,"v":2.77},{"k":"All","t":11.15,"v":2.82},{"k":"All","t":10.91,"v":2.9},{"k":"All","t":10.6,"v":2.85},{"k":"All","t":10.36,"v":2.9},{"k":"All","t":10.12,"v":3.0},{"k":"All","t":9.96,"v":2.85},{"k":"All","t":9.72,"v":2.92},{"k":"All","t":9.48,"v":2.87},{"k":"All","t":9.24,"v":2.9},{"k":"All","t":9.0,"v":2.85},{"k":"All","t":8.69,"v":2.82},{"k":"All","t":8.37,"v":2.77},{"k":"All","t":8.05,"v":2.72},{"k":"All","t":7.73,"v":2.7},{"k":"All","t":7.41,"v":2.65},{"k":"All","t":7.09,"v":2.6},{"k":"All","t":6.77,"v":2.5},{"k":"All","t":6.45,"v":2.43},{"k":"All","t":6.13,"v":2.38},{"k":"All","t":5.82,"v":2.3},{"k":"All","t":5.5,"v":2.23},{"k":"All","t":5.18,"v":2.15},{"k":"All","t":4.86,"v":2.11},{"k":"All","t":4.54,"v":2.05},{"k":"All","t":4.22,"v":1.96},{"k":"All","t":3.91,"v":1.88},{"k":"All","t":3.59,"v":1.83},{"k":"All","t":3.26,"v":1.78},{"k":"All","t":2.95,"v":1.71},{"k":"All","t":2.63,"v":1.68},{"k":"All","t":2.31,"v":1.63},{"k":"All","t":1.99,"v":1.61},{"k":"All","t":1.67,"v":1.56},{"k":"All","t":1.35,"v":1.51},{"k":"All","t":1.04,"v":1.54},{"k":"All","t":0.72,"v":1.54},{"k":"All","t":0.48,"v":1.56},{"k":"All","t":0.37,"v":1.39},{"k":"All","t":0.24,"v":1.46},{"k":"All","t":0.08,"v":1.49}
 ],
 "labA": [{"p": "A", "t": 20.34, "v": 483.4}],
 "labB": [{"p": "B", "t": 20.48, "v": 71.3}],
 "labC": [{"p": "C", "t": 20.55, "v": 2.29}]
},
"encoding": {
 "x": {"field": "t", "type": "quantitative", "scale": {"domain": [0, 22.04], "reverse": true, "nice": false, "zero": false},
   "axis": {"orient": "bottom", "values": [21, 18, 15, 12, 9, 6, 3, 0], "domain": false, "grid": false, "tickColor": "#222", "tickSize": 6, "labelFont": "Liberation Serif", "labelFontWeight": "bold", "labelFontSize": 18, "labelColor": "#000", "labelPadding": 12, "labelFlush": false, "labelOverlap": false, "labelExpr": "'' + datum.value", "title": ""}}
},
"layer": [
 {
  "data": {"name": "ins"},
  "mark": {"type": "line", "color": "#0000ff", "strokeWidth": 2, "interpolate": "monotone"},
  "encoding": {
   "y": {"field": "v", "type": "quantitative", "scale": {"domain": [379.23, 492.98], "nice": false, "zero": false},
     "axis": {"orient": "left", "values": [460, 470, 480, 490], "domain": false, "grid": false, "tickColor": "#0000ff", "tickSize": 6, "labelFont": "Liberation Serif", "labelFontWeight": "bold", "labelFontSize": 18, "labelColor": "#1414f0", "labelPadding": 10.5, "labelFlush": false, "labelOverlap": false, "labelExpr": "'' + datum.value",
       "title": "Insolation (W/m²)", "titleFont": "Liberation Serif", "titleFontWeight": "bold", "titleFontSize": 18, "titleColor": "#1414f0", "titleAngle": 270, "titleX": -62, "titleY": 126, "titleAlign": "center", "titleBaseline": "middle"}}
  }
 },
 {
  "data": {"name": "co2"},
  "mark": {"type": "line", "color": "#0b6b0b", "strokeWidth": 2.4, "interpolate": "monotone"},
  "encoding": {
   "y": {"field": "v", "type": "quantitative", "scale": {"domain": [-249.6, 350.06], "nice": false, "zero": false},
     "axis": {"orient": "right", "values": [190, 250, 310], "domain": false, "grid": false, "tickColor": "#0b6b0b", "tickSize": 6, "labelFont": "Liberation Serif", "labelFontWeight": "bold", "labelFontSize": 18, "labelColor": "#0b6b0b", "labelPadding": 11, "labelFlush": false, "labelOverlap": false, "labelExpr": "'' + datum.value",
       "title": "CO₂ (ppm)", "titleFont": "Liberation Serif", "titleFontWeight": "bold", "titleFontSize": 18, "titleColor": "#0b6b0b", "titleAngle": 270, "titleX": 63, "titleY": 126, "titleAlign": "center", "titleBaseline": "middle"}}
  }
 },
 {
  "data": {"name": "areal"},
  "mark": {"type": "line", "strokeWidth": 2},
  "encoding": {
   "y": {"field": "v", "type": "quantitative", "scale": {"domain": [-129.37, 214.86], "nice": false, "zero": false},
     "axis": {"orient": "right", "values": [-10, 0, 40, 80], "domain": false, "grid": false, "tickColor": "#222", "tickSize": 6, "labelFont": "Liberation Serif", "labelFontWeight": "bold", "labelFontSize": 18, "labelColor": "#000", "labelPadding": 11, "labelFlush": false, "labelOverlap": false, "labelExpr": "'' + datum.value",
       "title": "Areal change (%)", "titleFont": "Liberation Serif", "titleFontWeight": "bold", "titleFontSize": 18, "titleColor": "#000", "titleAngle": 270, "titleX": 63, "titleY": 376, "titleAlign": "center", "titleBaseline": "middle"}},
   "color": {"field": "k", "type": "nominal", "scale": {"domain": ["All", "Orb", "CO₂", "Orb+CO₂"], "range": ["#000000", "#0000ff", "#0b6b0b", "#c0c0c0"]},
     "legend": {"orient": "none", "legendX": 368, "legendY": 472, "title": null, "symbolType": "stroke", "symbolSize": 529, "symbolStrokeWidth": 2, "clipHeight": 14, "rowPadding": 5.7, "labelOffset": 1, "padding": 0, "labelFont": "Liberation Serif", "labelFontWeight": "bold", "labelFontSize": 14, "labelColor": "#000"}}
  }
 },
 {
  "data": {"name": "lotg"},
  "mark": {"type": "line", "strokeWidth": 2},
  "encoding": {
   "y": {"field": "v", "type": "quantitative", "scale": {"domain": [-0.5, 10.672], "nice": false, "zero": false},
     "axis": {"orient": "left", "values": [-0.5, 0.5, 1.5, 2.5], "domain": false, "grid": false, "tickColor": "#222", "tickSize": 6, "labelFont": "Liberation Serif", "labelFontWeight": "bold", "labelFontSize": 18, "labelColor": "#000", "labelPadding": 10.5, "labelFlush": false, "labelOverlap": false, "labelExpr": "'' + datum.value",
       "title": "LOTG (°C)", "titleFont": "Liberation Serif", "titleFontWeight": "bold", "titleFontSize": 18, "titleColor": "#000", "titleAngle": 270, "titleX": -62, "titleY": 628, "titleAlign": "center", "titleBaseline": "middle"}},
   "color": {"field": "k", "type": "nominal", "scale": {"domain": ["All", "Orb", "CO₂", "Orb+CO₂"], "range": ["#000000", "#0000ff", "#0b6b0b", "#c0c0c0"]}, "legend": null}
  }
 },
 {
  "data": {"name": "labA"},
  "mark": {"type": "text", "font": "Liberation Sans", "fontWeight": "bold", "fontSize": 20, "align": "center", "baseline": "middle", "color": "#000"},
  "encoding": {
   "text": {"field": "p"},
   "y": {"field": "v", "type": "quantitative", "scale": {"domain": [379.23, 492.98], "nice": false, "zero": false}, "axis": null}
  }
 },
 {
  "data": {"name": "labB"},
  "mark": {"type": "text", "font": "Liberation Sans", "fontWeight": "bold", "fontSize": 20, "align": "center", "baseline": "middle", "color": "#000"},
  "encoding": {
   "text": {"field": "p"},
   "y": {"field": "v", "type": "quantitative", "scale": {"domain": [-129.37, 214.86], "nice": false, "zero": false}, "axis": null}
  }
 },
 {
  "data": {"name": "labC"},
  "mark": {"type": "text", "font": "Liberation Sans", "fontWeight": "bold", "fontSize": 20, "align": "center", "baseline": "middle", "color": "#000"},
  "encoding": {
   "text": {"field": "p"},
   "y": {"field": "v", "type": "quantitative", "scale": {"domain": [-0.5, 10.672], "nice": false, "zero": false}, "axis": null}
  }
 }
],
"resolve": {"scale": {"y": "independent"}, "axis": {"y": "independent"}}
}
